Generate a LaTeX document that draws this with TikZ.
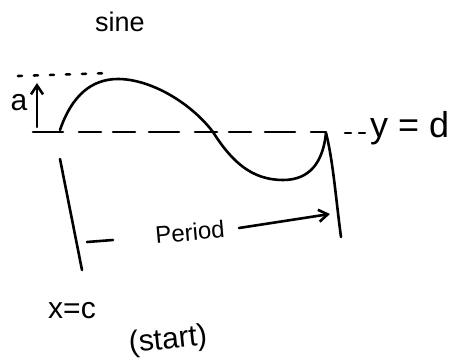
\documentclass[tikz,border=0pt]{standalone}
\usepackage{fontspec}
\setmainfont{Liberation Sans}
\usetikzlibrary{arrows.meta}
\begin{document}
\begin{tikzpicture}[x=1pt,y=-1pt,
  pen/.style={line width=2.6pt,line cap=round,line join=round},
  hand/.style={inner sep=0pt,font=\fontsize{#1}{#1}\selectfont},
  tip/.style={-{Straight Barb[length=9pt,width=12pt,line width=2.6pt]}}]
\useasboundingbox (0,0) rectangle (467,359);
% named points
\coordinate (dotL) at (18,76);
\coordinate (dotR) at (110,73);
\coordinate (aB) at (37,127);
\coordinate (aT) at (37,83);
\coordinate (baseL) at (33,132);
\coordinate (baseR) at (326,132);
\coordinate (ext1) at (345,133);
\coordinate (ext2) at (366,133);
\coordinate (s0) at (60,130);
\coordinate (s1) at (118,79);
\coordinate (s2) at (213,132);
\coordinate (s3) at (283,180);
\coordinate (s4) at (326,133);
\coordinate (lT) at (60,159);
\coordinate (lB) at (82,270);
\coordinate (rB) at (341,237);
\coordinate (pd1) at (87,242);
\coordinate (pd2) at (113,240);
\coordinate (pa1) at (239,228);
\coordinate (pa2) at (330,214);
% texts
\node[hand=27] (sine) at (120,22) {sine};
\node[hand=30] (alab) at (19,103) {a};
\node[hand=36,anchor=west] (yd) at (370,128) {y = d};
\node[hand=24,rotate=5] (period) at (190,232) {Period};
\node[hand=30] (xc) at (72,311) {x=c};
\node[hand=30,rotate=6] (start) at (168,341) {(start)};
% dotted top
\draw[pen,dash pattern=on 4pt off 12pt] (dotL) -- (dotR);
% amplitude arrow
\draw[pen,tip] (aB) -- (aT);
% dashed baseline
\draw[pen,dash pattern=on 30pt off 16pt on 22pt off 12pt on 22pt off 14pt] (baseL) -- (baseR);
\draw[pen,dash pattern=on 6pt off 8pt] (ext1) -- (ext2);
% sine curve
\draw[pen] (s0) .. controls (72,95) and (92,79) .. (s1)
  .. controls (150,79) and (190,102) .. (s2)
  .. controls (232,162) and (252,180) .. (s3)
  .. controls (310,180) and (323,162) .. (s4);
% verticals
\draw[pen] (lT) -- (lB);
\draw[pen] (s4) .. controls (333,160) and (336,200) .. (rB);
% period
\draw[pen] (pd1) -- (pd2);
\draw[pen,tip] (pa1) -- (pa2);
\end{tikzpicture}
\end{document}
